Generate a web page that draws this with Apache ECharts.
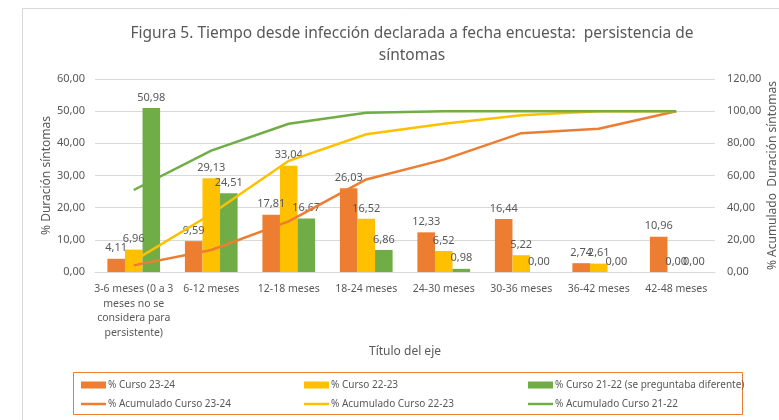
<!DOCTYPE html>
<html>
<head>
<meta charset="utf-8">
<script src="https://cdn.jsdelivr.net/npm/echarts@6/dist/echarts.min.js"></script>
<style>
  html, body { margin: 0; padding: 0; background: #fff; }
  #chart { width: 779px; height: 420px; }
</style>
</head>
<body>
<div id="chart"></div>
<script>
// categorías del eje X
var categorias = ['3-6 meses (0 a 3\nmeses no se\nconsidera para\npersistente)', '6-12 meses', '12-18 meses',
    '18-24 meses', '24-30 meses', '30-36 meses', '36-42 meses', '42-48 meses'];

// % por curso (barras)
var curso2324 = [4.11, 9.59, 17.81, 26.03, 12.33, 16.44, 2.74, 10.96];
var curso2223 = [6.96, 29.13, 33.04, 16.52, 6.52, 5.22, 2.61, 0.00];
var curso2122 = [50.98, 24.51, 16.67, 6.86, 0.98, 0.00, 0.00, 0.00];

// % acumulado (líneas, eje derecho)
var acum2324 = [4.11, 13.70, 31.51, 57.54, 69.87, 86.31, 89.05, 100.00];
var acum2223 = [6.96, 36.09, 69.13, 85.65, 92.17, 97.39, 100.00, 100.00];
var acum2122 = [50.98, 75.49, 92.16, 99.02, 100.00, 100.00, 100.00, 100.00];

var NARANJA = '#ED7D31', AMARILLO = '#FFC000', VERDE = '#70AD47', GRIS = '#595959';
var FUENTE = '"Noto Sans", sans-serif';
var ICONO_LINEA = 'path://M0,0L25,0L25,2.5L0,2.5Z';

function coma(v) { return Number(v).toFixed(2).replace('.', ','); }

function barra(nombre, datos, color) {
    return {
        name: nombre, type: 'bar', data: datos, barGap: 0, barCategoryGap: '32%',
        itemStyle: { color: color },
        label: { show: true, position: 'top', color: GRIS, fontSize: 11, fontFamily: FUENTE,
            formatter: function (p) { return coma(p.value); } }
    };
}
function linea(nombre, datos, color) {
    return {
        name: nombre, type: 'line', yAxisIndex: 1, data: datos, symbol: 'none', z: 5,
        lineStyle: { color: color, width: 2.5 }, itemStyle: { color: color }
    };
}
function leyenda(x, barraNombre, lineaNombre) {
    return {
        left: x, top: 375, orient: 'vertical', itemGap: 9, itemWidth: 25, itemHeight: 7,
        textStyle: { color: GRIS, fontSize: 10, fontFamily: FUENTE, padding: [0, 0, 0, -3] },
        data: [{ name: barraNombre, icon: 'rect' }, { name: lineaNombre, icon: ICONO_LINEA }]
    };
}

var myChart = echarts.init(document.getElementById('chart'));
var option = {
    backgroundColor: '#fff',
    animation: false,
    title: {
        text: 'Figura 5. Tiempo desde infección declarada a fecha encuesta:  persistencia de\nsíntomas',
        left: 407, top: 18, textAlign: 'center',
        textStyle: { color: GRIS, fontSize: 15.5, fontWeight: 'normal', fontFamily: FUENTE, lineHeight: 22 }
    },
    graphic: [
        { type: 'line', shape: { x1: 22, y1: 8.5, x2: 779, y2: 8.5 }, style: { stroke: '#d9d9d9', lineWidth: 1 } },
        { type: 'line', shape: { x1: 22.5, y1: 8, x2: 22.5, y2: 420 }, style: { stroke: '#d9d9d9', lineWidth: 1 } },
        { type: 'rect', shape: { x: 73.5, y: 372.5, width: 669, height: 42 }, style: { fill: 'none', stroke: NARANJA, lineWidth: 1 } }
    ],
    legend: [
        leyenda(76, '% Curso 23-24', '% Acumulado Curso 23-24'),
        leyenda(299, '% Curso 22-23', '% Acumulado Curso 22-23'),
        leyenda(523, '% Curso 21-22 (se preguntaba diferente)', '% Acumulado Curso 21-22')
    ],
    grid: { left: 95, right: 64, top: 79, bottom: 148, outerBoundsMode: 'none', containLabel: false },
    xAxis: {
        type: 'category', data: categorias,
        name: 'Título del eje', nameLocation: 'middle', nameGap: 74, nameMoveOverlap: false,
        nameTextStyle: { color: GRIS, fontSize: 12, fontFamily: FUENTE },
        axisLine: { lineStyle: { color: '#d9d9d9' } },
        axisTick: { show: false },
        axisLabel: { interval: 0, color: GRIS, fontSize: 10.5, fontFamily: FUENTE, lineHeight: 14.5, margin: 10 }
    },
    yAxis: [
        {
            type: 'value', min: 0, max: 60, interval: 10,
            name: '% Duración síntomas', nameLocation: 'middle', nameGap: 42, nameMoveOverlap: false,
            nameTextStyle: { color: GRIS, fontSize: 12, fontFamily: FUENTE },
            axisLabel: { color: GRIS, fontSize: 11, fontFamily: FUENTE, margin: 10, formatter: coma },
            splitLine: { lineStyle: { color: '#d9d9d9' } }
        },
        {
            type: 'value', min: 0, max: 120, interval: 20,
            name: '% Acumulado  Duración síntomas', nameLocation: 'middle', nameGap: 52, nameRotate: 90,
            nameMoveOverlap: false,
            nameTextStyle: { color: GRIS, fontSize: 12, fontFamily: FUENTE },
            axisLabel: { color: GRIS, fontSize: 11, fontFamily: FUENTE, margin: 12, formatter: coma },
            splitLine: { show: false }
        }
    ],
    series: [
        barra('% Curso 23-24', curso2324, NARANJA),
        barra('% Curso 22-23', curso2223, AMARILLO),
        barra('% Curso 21-22 (se preguntaba diferente)', curso2122, VERDE),
        linea('% Acumulado Curso 23-24', acum2324, NARANJA),
        linea('% Acumulado Curso 22-23', acum2223, AMARILLO),
        linea('% Acumulado Curso 21-22', acum2122, VERDE)
    ]
};
myChart.setOption(option);
window.addEventListener('resize', function () { myChart.resize(); });
</script>
</body>
</html>
